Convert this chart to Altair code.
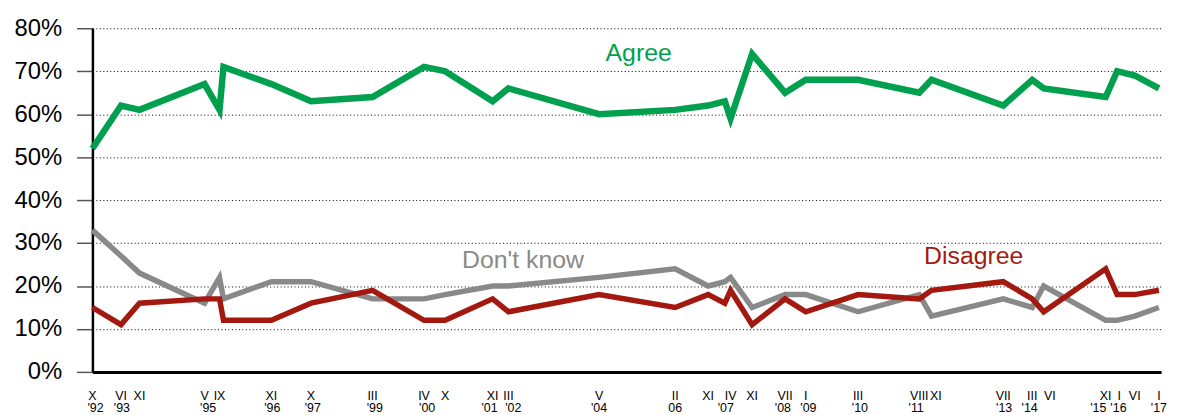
import altair as alt
import pandas as pd

# Survey dates (decimal years)
t = [1992.75, 1993.40, 1993.82, 1995.30, 1995.64, 1995.73, 1996.82, 1997.72,
     1999.12, 2000.29, 2000.77, 2001.85, 2002.21, 2004.27, 2006.00, 2006.75,
     2007.13, 2007.26, 2007.75, 2008.50, 2008.97, 2010.16, 2011.55, 2011.83,
     2013.46, 2014.12, 2014.38, 2015.79, 2016.05, 2016.45, 2017.00]

agree = [52, 62, 61, 67, 61, 71, 67, 63, 64, 71, 70, 63, 66, 60, 61, 62,
         63, 59, 74, 65, 68, 68, 65, 68, 62, 68, 66, 64, 70, 69, 66]
dont_know = [33, 27, 23, 16, 22, 17, 21, 21, 17, 17, 18, 20, 20, 22, 24, 20,
             21, 22, 15, 18, 18, 14, 18, 13, 17, 15, 20, 12, 12, 13, 15]
disagree = [15, 11, 16, 17, 17, 12, 12, 16, 19, 12, 12, 17, 14, 18, 15, 18,
            16, 19, 11, 17, 14, 18, 17, 19, 21, 17, 14, 24, 18, 18, 19]

# Tick labels: month in Roman numerals, year below
label_t = [1992.75, 1993.40, 1993.82, 1995.30, 1995.64, 1996.82, 1997.72,
           1999.12, 2000.29, 2000.77, 2001.85, 2002.21, 2004.27, 2006.00,
           2006.75, 2007.26, 2007.75, 2008.50, 2008.97, 2010.16, 2011.55,
           2011.93, 2013.46, 2014.12, 2014.52, 2015.79, 2016.10, 2016.45,
           2017.00]
label_month = ["X", "VI", "XI", "V", "IX", "XI", "X", "III", "IV", "X", "XI",
               "III", "V", "II", "XI", "IV", "XI", "VII", "I", "III", "VIII",
               "XI", "VII", "III", "VI", "XI", "I", "VI", "I"]
year_t = [1992.82, 1993.42, 1995.38, 1996.84, 1997.76, 1999.17, 2000.36,
          2001.78, 2002.32, 2004.27, 2006.00, 2007.15, 2008.45, 2009.03,
          2010.20, 2011.48, 2013.48, 2014.06, 2015.62, 2016.08, 2017.00]
label_year = ["'92", "'93", "'95", "'96", "'97", "'99", "'00", "'01", "'02",
              "'04", "06", "'07", "'08", "'09", "'10", "'11", "'13", "'14",
              "'15", "'16", "'17"]

series_names = ["Agree", "Don't know", "Disagree"]
series_colors = ["#00A04E", "#898989", "#A3190F"]
series_label_t = [2005.17, 2002.54, 2012.79]
series_label_v = [72.4, 24.2, 25.1]

W, H = 1076, 346
FONT = "Liberation Sans"

xscale = alt.Scale(domain=[1992.75, 2017.05], nice=False, zero=False)
yscale = alt.Scale(domain=[0, 80], nice=False)

df = pd.DataFrame({"t": t, "agree": agree, "dontknow": dont_know,
                   "disagree": disagree})

def line(col, color, width):
    return alt.Chart(df).mark_line(color=color, strokeWidth=width,
                                   strokeJoin="miter").encode(
        x=alt.X("t:Q", scale=xscale,
                axis=alt.Axis(labels=False, ticks=False, grid=False,
                              domain=True, domainColor="black",
                              domainWidth=3, title=None)),
        y=alt.Y(f"{col}:Q", scale=yscale,
                axis=alt.Axis(values=list(range(0, 81, 10)),
                              labelExpr="datum.value + '%'",
                              title=None, grid=True, gridColor="black",
                              gridDash=[1, 2.5], gridWidth=1,
                              tickSize=16, tickColor="#555555", tickWidth=1.5,
                              domainColor="black", domainWidth=2.5,
                              labelPadding=15, labelFontSize=24,
                              labelFont=FONT, labelColor="black")),
    )

gray_line = line("dontknow", series_colors[1], 5.5)
red_line = line("disagree", series_colors[2], 5.5)
green_line = line("agree", series_colors[0], 6.5)

lab_df = pd.DataFrame({"t": series_label_t, "v": series_label_v,
                       "name": series_names, "color": series_colors})
series_text = alt.Chart(lab_df).mark_text(
    font=FONT, fontSize=25, baseline="alphabetic", align="center").encode(
    x=alt.X("t:Q", scale=xscale),
    y=alt.Y("v:Q", scale=yscale),
    text="name:N",
    color=alt.Color("color:N", scale=None),
)

month_df = pd.DataFrame({"t": label_t, "m": label_month})
month_text = alt.Chart(month_df).mark_text(
    font=FONT, fontSize=12.5, baseline="middle", align="center",
    color="black").encode(
    x=alt.X("t:Q", scale=xscale),
    y=alt.value(H + 24),
    text="m:N",
)
year_df = pd.DataFrame({"t": year_t, "y": label_year})
year_text = alt.Chart(year_df).mark_text(
    font=FONT, fontSize=12.5, baseline="middle", align="center",
    color="black").encode(
    x=alt.X("t:Q", scale=xscale),
    y=alt.value(H + 36),
    text="y:N",
)

chart = alt.layer(gray_line, red_line, green_line, series_text,
                  month_text, year_text).properties(
    width=W, height=H,
    autosize=alt.AutoSizeParams(type="none"),
    padding={"left": 85, "top": 19, "right": 16, "bottom": 42},
    background="white",
).configure_view(stroke=None)

chart.save("out.html", embed_options={"renderer": "svg", "actions": False})
